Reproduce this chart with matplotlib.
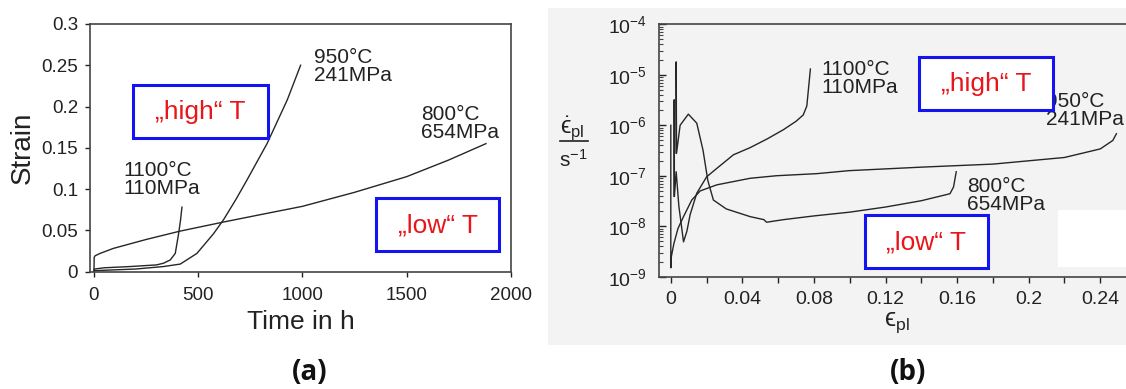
import numpy as np
import matplotlib.pyplot as plt
from matplotlib.patches import Rectangle
from matplotlib.lines import Line2D
from matplotlib.ticker import LogLocator, MultipleLocator, NullFormatter

plt.rcParams['font.family'] = ['Liberation Sans', 'DejaVu Sans']
plt.rcParams['mathtext.fontset'] = 'custom'
plt.rcParams['mathtext.rm'] = 'Liberation Sans'
plt.rcParams['mathtext.it'] = 'Liberation Sans:italic'
plt.rcParams['mathtext.fallback'] = 'stixsans'

# ---- (a) strain vs time ----
t_1100 = [0, 2, 50, 173, 300, 333, 366, 390, 406, 415, 422]
e_1100 = [0, 0.003, 0.0045, 0.006, 0.008, 0.010, 0.014, 0.022, 0.046, 0.062, 0.078]

t_950 = [0, 3, 100, 200, 333, 414, 494, 574, 622, 680, 734, 830, 927, 991]
e_950 = [0, 0.001, 0.002, 0.003, 0.006, 0.009, 0.022, 0.046, 0.063, 0.087, 0.111, 0.155, 0.208, 0.250]

t_800 = [0, 1, 5, 30, 93, 253, 414, 622, 800, 1000, 1250, 1500, 1700, 1880]
e_800 = [0, 0.017, 0.019, 0.022, 0.028, 0.039, 0.049, 0.060, 0.069, 0.079, 0.096, 0.115, 0.135, 0.155]

a_xticks = [0, 500, 1000, 1500, 2000]
a_yticks = [0, 0.05, 0.1, 0.15, 0.2, 0.25, 0.3]
a_yticklabels = ['0', '0.05', '0.1', '0.15', '0.2', '0.25', '0.3']

# ---- (b) strain rate vs plastic strain ----
eps_1100 = [0.0019, 0.0019, 0.0020, 0.0030, 0.0045, 0.0071, 0.0090, 0.0108, 0.0145, 0.020,
            0.0257, 0.035, 0.0443, 0.054, 0.063, 0.070, 0.074, 0.076, 0.078]
rate_1100 = [3.9e-8, 3.2e-6, 3.9e-8, 1.2e-7, 2.5e-8, 4.9e-9, 8e-9, 1.7e-8, 4.5e-8, 9.5e-8,
             1.4e-7, 2.6e-7, 3.6e-7, 5.4e-7, 8.2e-7, 1.2e-6, 1.6e-6, 2.4e-6, 1.3e-5]

eps_950 = [0, 0, 0.0003, 0.0017, 0.0040, 0.0071, 0.0117, 0.0164, 0.0257, 0.0443, 0.059,
           0.0816, 0.0994, 0.14, 0.18, 0.22, 0.24, 0.247, 0.249]
rate_950 = [1.0e-6, 1.5e-9, 2.5e-9, 4.5e-9, 9e-9, 1.55e-8, 3.3e-8, 5e-8, 6.6e-8, 8.9e-8, 1.0e-7,
            1.1e-7, 1.26e-7, 1.48e-7, 1.7e-7, 2.3e-7, 3.4e-7, 5e-7, 6.8e-7]

eps_800 = [0.0030, 0.0030, 0.0032, 0.0052, 0.0098, 0.0145, 0.018, 0.0207, 0.0238, 0.031, 0.0443,
           0.052, 0.0535, 0.063, 0.08, 0.10, 0.12, 0.14, 0.156, 0.158, 0.1595]
rate_800 = [2.8e-7, 1.8e-5, 2.8e-7, 1.0e-6, 1.66e-6, 1.1e-6, 3.2e-7, 8e-8, 3.3e-8, 2.2e-8, 1.55e-8,
            1.35e-8, 1.2e-8, 1.35e-8, 1.6e-8, 1.9e-8, 2.4e-8, 3.2e-8, 4.4e-8, 6e-8, 1.2e-7]

b_xticks = [0, 0.04, 0.08, 0.12, 0.16, 0.2, 0.24]
b_xticklabels = ['0', '0.04', '0.08', '0.12', '0.16', '0.2', '0.24']

W, H = 1126, 389
fig = plt.figure(figsize=(W / 100, H / 100), dpi=100)


def rect(x0, y0, x1, y1):
    # pixel box, origin top-left -> figure fraction [l, b, w, h]
    return [x0 / W, 1 - y1 / H, (x1 - x0) / W, (y1 - y0) / H]


def fxy(x, y):
    return x / W, 1 - y / H


line_kw = dict(color='#262626', lw=1.0)
red = '#e8161b'
blue = '#1414f0'
ann_kw = dict(fontsize=15, va='top', ha='left', linespacing=0.95, color='#222')

# gray scan background of panel (b)
fig.patches.append(Rectangle(fxy(548, 345), (W - 548) / W, 337 / H, transform=fig.transFigure,
                             fc='#f3f3f3', ec='none', zorder=-1))

# ---------------- panel (a) ----------------
ax1 = fig.add_axes(rect(90, 24, 511, 271.5))
ax1.plot(t_1100, e_1100, **line_kw)
ax1.plot(t_950, e_950, **line_kw)
ax1.plot(t_800, e_800, **line_kw)
ax1.set_xlim(-19, 2000)
ax1.set_ylim(0, 0.3)
ax1.set_xticks(a_xticks)
ax1.set_yticks(a_yticks)
ax1.set_yticklabels(a_yticklabels)
ax1.tick_params(direction='out', length=3.5, width=1, labelsize=13.5, colors='#222')
ax1.tick_params(axis='x', pad=8)
ax1.tick_params(axis='y', pad=5)
for s in ax1.spines.values():
    s.set_color('#444')
    s.set_linewidth(1.2)
ax1.set_xlabel('Time in h', fontsize=19, labelpad=4, color='#222')
ax1.set_ylabel('Strain', fontsize=20, labelpad=4, color='#222')

ax1.text(1055, 0.271, '950\u00b0C\n241MPa', **ann_kw)
ax1.text(1569, 0.202, '800\u00b0C\n654MPa', **ann_kw)
ax1.text(141, 0.134, '1100\u00b0C\n110MPa', **ann_kw)

# ---------------- panel (b) ----------------
ax2 = fig.add_axes(rect(659, 24.3, 1135, 276.7))
ax2.set_facecolor('none')
ax2.plot(eps_1100, rate_1100, **line_kw)
ax2.plot(eps_950, rate_950, **line_kw)
ax2.plot(eps_800, rate_800, **line_kw)
ax2.set_yscale('log')
ax2.set_ylim(1e-9, 1e-4)
ax2.set_xlim(-0.0066, 0.2594)
ax2.yaxis.set_major_locator(LogLocator(base=10, numticks=10))
ax2.yaxis.set_minor_locator(LogLocator(base=10, subs=np.arange(2, 10), numticks=10))
ax2.yaxis.set_minor_formatter(NullFormatter())
ax2.set_xticks(b_xticks)
ax2.set_xticklabels(b_xticklabels)
ax2.xaxis.set_minor_locator(MultipleLocator(0.02))
ax2.tick_params(axis='y', which='major', direction='in', length=5, width=1, labelsize=14, pad=9, colors='#222')
ax2.tick_params(axis='y', which='minor', direction='in', length=3, width=0.8, colors='#444')
ax2.tick_params(axis='x', which='both', direction='out', length=4, width=1, labelsize=14, pad=6, colors='#222')
ax2.spines['right'].set_visible(False)
for s in ['left', 'bottom', 'top']:
    ax2.spines[s].set_color('#444')
    ax2.spines[s].set_linewidth(1.2)
ax2.set_xlabel('$\\mathrm{\u03f5}_{\\mathrm{pl}}$', fontsize=18, labelpad=2, color='#222')

ax2.text(0.0844, 10 ** -4.707, '1100\u00b0C\n110MPa', **ann_kw)
ax2.text(0.2094, 10 ** -5.335, '950\u00b0C\n241MPa', **ann_kw)
ax2.text(0.1655, 10 ** -7.018, '800\u00b0C\n654MPa', **ann_kw)

# y label of (b): stacked fraction, partly cut off in the scan
fig.text(*fxy(560, 128), '$\\dot{\\mathrm{\u03f5}}_{\\mathrm{pl}}$', fontsize=17, ha='left', va='center', color='#222')
fig.lines.append(Line2D([560 / W, 588 / W], [1 - 141 / H, 1 - 141 / H], transform=fig.transFigure,
                        color='#222', lw=1.2))
fig.text(*fxy(559, 160), r's$^{-1}$', fontsize=15, ha='left', va='center', color='#222')

# white patch in scan
fig.patches.append(Rectangle(fxy(1058, 267), 68 / W, 57 / H, transform=fig.transFigure,
                             fc='white', ec='none', zorder=1))

# "high" / "low" T boxes
boxes = [(133, 85, 268, 138, '\u201ehigh\u201c T'),
         (376, 198, 499, 251, '\u201elow\u201c T'),
         (919, 57, 1053, 110, '\u201ehigh\u201c T'),
         (865, 215, 988, 268, '\u201elow\u201c T')]
for x0, y0, x1, y1, lab in boxes:
    fig.patches.append(Rectangle(fxy(x0, y1), (x1 - x0) / W, (y1 - y0) / H, transform=fig.transFigure,
                                 fc='white', ec=blue, lw=2.2, zorder=3))
    fig.text(*fxy((x0 + x1) / 2, (y0 + y1) / 2 + 1), lab, fontsize=19, color=red,
             ha='center', va='center', zorder=4)

fig.text(*fxy(310, 372), '(a)', fontsize=20, fontweight='bold', family=['Open Sans', 'DejaVu Sans'],
         ha='center', va='center', color='#111')
fig.text(*fxy(908, 372), '(b)', fontsize=20, fontweight='bold', family=['Open Sans', 'DejaVu Sans'],
         ha='center', va='center', color='#111')

fig.savefig('out.png', dpi=100)
